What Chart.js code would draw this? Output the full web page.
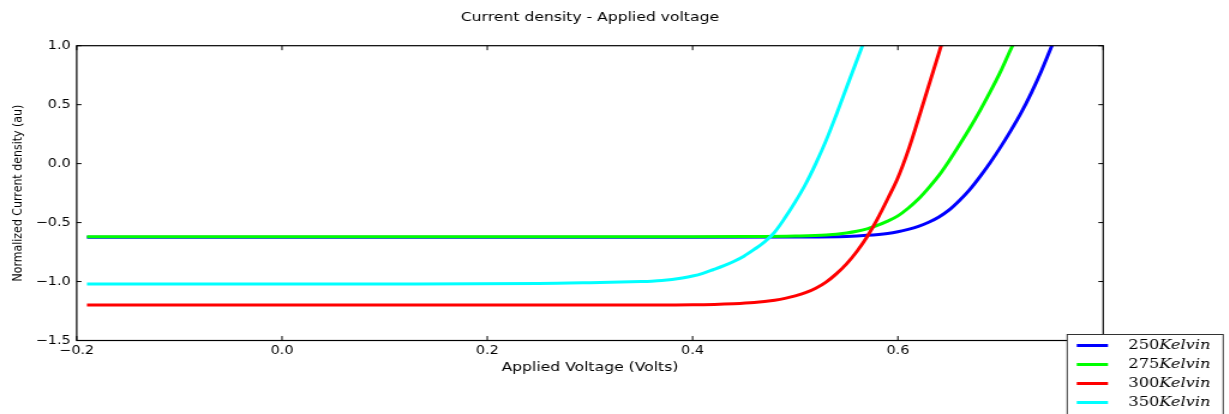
<!DOCTYPE html>
<html>
<head>
<meta charset="utf-8">
<title>Current density - Applied voltage</title>
<script src="https://cdn.jsdelivr.net/npm/chart.js@4/dist/chart.umd.min.js"></script>
<style>
    html, body { margin: 0; padding: 0; background: #fff; overflow: hidden; }
    /* the reference figure is stretched sideways, so draw narrow and stretch */
    #wrap {
        position: absolute;
        left: 0;
        top: 0;
        width: 1024px;
        height: 414px;
        transform: scaleX(1.2);
        transform-origin: 0 0;
    }
</style>
</head>
<body>
<div id="wrap"><canvas id="ivChart"></canvas></div>
<script>
// Applied voltage (V) and normalized current density (au), one pair per temperature
const v250 = [-0.19, 0.2, 0.4, 0.5, 0.55, 0.57, 0.59, 0.60, 0.61, 0.62, 0.63, 0.64, 0.65, 0.66, 0.67, 0.68, 0.69, 0.70, 0.71, 0.72, 0.73, 0.74, 0.75, 0.76];
const j250 = [-0.624, -0.624, -0.624, -0.622, -0.617, -0.608, -0.592, -0.578, -0.558, -0.532, -0.497, -0.452, -0.392, -0.312, -0.22, -0.11, 0.01, 0.14, 0.28, 0.43, 0.60, 0.79, 1.0, 1.21];

const v275 = [-0.19, 0.2, 0.4, 0.45, 0.50, 0.53, 0.55, 0.56, 0.57, 0.58, 0.59, 0.60, 0.61, 0.62, 0.63, 0.64, 0.65, 0.66, 0.67, 0.68, 0.69, 0.70, 0.71, 0.72];
const j275 = [-0.62, -0.62, -0.62, -0.619, -0.614, -0.605, -0.588, -0.574, -0.553, -0.524, -0.488, -0.443, -0.378, -0.3, -0.205, -0.1, 0.025, 0.16, 0.3, 0.45, 0.61, 0.78, 0.97, 1.15];

const v300 = [-0.19, 0.2, 0.35, 0.40, 0.44, 0.46, 0.48, 0.49, 0.50, 0.51, 0.52, 0.53, 0.54, 0.55, 0.56, 0.57, 0.58, 0.59, 0.60, 0.61, 0.62, 0.63, 0.64, 0.65];
const j300 = [-1.2, -1.2, -1.199, -1.197, -1.188, -1.178, -1.158, -1.143, -1.122, -1.095, -1.057, -1.005, -0.935, -0.85, -0.745, -0.62, -0.47, -0.3, -0.12, 0.11, 0.38, 0.66, 0.94, 1.22];

const v350 = [-0.19, 0.1, 0.25, 0.30, 0.35, 0.36, 0.37, 0.38, 0.39, 0.40, 0.41, 0.42, 0.43, 0.44, 0.45, 0.46, 0.47, 0.48, 0.49, 0.50, 0.51, 0.52, 0.53, 0.54, 0.55, 0.56, 0.57];
const j350 = [-1.02, -1.02, -1.017, -1.01, -1.0, -0.997, -0.992, -0.983, -0.97, -0.953, -0.93, -0.9, -0.868, -0.83, -0.785, -0.728, -0.665, -0.58, -0.46, -0.325, -0.175, 0.0, 0.195, 0.415, 0.645, 0.875, 1.105];

const tempLabels = ['250', '275', '300', '350'];
const unitLabel = 'Kelvin';
const lineColors = ['#0000ff', '#00ff00', '#ff0000', '#00ffff'];

const xTicks = [-0.2, 0.0, 0.2, 0.4, 0.6, 0.8];
const yTicks = [-1.5, -1.0, -0.5, 0.0, 0.5, 1.0];

/**
 * Pair up voltage and current arrays into points
 */
function toPoints(xs, ys) {
    return xs.map((v, i) => ({ x: v, y: ys[i] }));
}

/**
 * Matplotlib style tick label with a real minus sign
 */
function tickText(v) {
    return v.toFixed(1).replace('-', '\u2212');
}

// Axes frame with inward ticks on all four sides
const frameTicks = {
    id: 'frameTicks',
    afterDatasetsDraw(chart) {
        const { ctx, chartArea: a, scales: { x, y } } = chart;
        ctx.save();
        ctx.strokeStyle = '#000';
        ctx.lineWidth = 1;
        ctx.beginPath();
        xTicks.forEach(v => {
            const px = x.getPixelForValue(v);
            ctx.moveTo(px, a.bottom);
            ctx.lineTo(px, a.bottom - 4.5);
            ctx.moveTo(px, a.top);
            ctx.lineTo(px, a.top + 4.5);
        });
        yTicks.forEach(v => {
            const py = y.getPixelForValue(v);
            ctx.moveTo(a.left, py);
            ctx.lineTo(a.left + 4, py);
            ctx.moveTo(a.right, py);
            ctx.lineTo(a.right - 4, py);
        });
        ctx.stroke();
        ctx.lineWidth = 1.2;
        ctx.strokeRect(a.left, a.top, a.right - a.left, a.bottom - a.top);
        ctx.restore();
    }
};

// Legend box hanging over the lower right corner of the axes
const boxLegend = {
    id: 'boxLegend',
    afterDraw(chart) {
        const { ctx, chartArea: a } = chart;
        const left = a.right - 30;
        const top = a.bottom - 6;
        ctx.save();
        ctx.fillStyle = '#fff';
        ctx.strokeStyle = '#333';
        ctx.lineWidth = 1;
        ctx.fillRect(left, top, 130, 95);
        ctx.strokeRect(left, top, 130, 95);
        ctx.textBaseline = 'middle';
        tempLabels.forEach((t, i) => {
            const yy = top + 11 + i * 19;
            ctx.strokeStyle = lineColors[i];
            ctx.lineWidth = 3;
            ctx.beginPath();
            ctx.moveTo(left + 8, yy);
            ctx.lineTo(left + 34, yy);
            ctx.stroke();
            ctx.fillStyle = '#000';
            ctx.font = '13.5px "DejaVu Serif"';
            ctx.fillText(t, left + 51, yy);
            const w = ctx.measureText(t).width;
            ctx.font = 'italic 13.5px "DejaVu Serif"';
            ctx.fillText(unitLabel, left + 51 + w, yy);
        });
        ctx.restore();
    }
};

const seriesX = [v250, v275, v300, v350];
const seriesY = [j250, j275, j300, j350];

const datasets = tempLabels.map((t, i) => ({
    label: t + ' ' + unitLabel,
    data: toPoints(seriesX[i], seriesY[i]),
    borderColor: lineColors[i],
    backgroundColor: lineColors[i],
    borderWidth: 3,
    pointRadius: 0,
    showLine: true,
    cubicInterpolationMode: 'monotone',
    clip: 0,
    order: tempLabels.length - i
}));

new Chart(document.getElementById('ivChart'), {
    type: 'scatter',
    data: { datasets: datasets },
    options: {
        responsive: true,
        maintainAspectRatio: false,
        animation: false,
        layout: {
            padding: { left: 0, right: 104.7, top: 0, bottom: 0 }
        },
        plugins: {
            legend: { display: false },
            tooltip: { enabled: false },
            title: {
                display: true,
                text: 'Current density - Applied voltage',
                fullSize: false,
                color: '#000',
                font: { family: 'DejaVu Sans', size: 13, weight: 'normal' },
                padding: { top: 10, bottom: 20.1 }
            }
        },
        scales: {
            x: {
                type: 'linear',
                min: -0.2,
                max: 0.8,
                afterFit: scale => { scale.height = 73.5; },
                afterBuildTicks: scale => { scale.ticks = xTicks.map(v => ({ value: v })); },
                grid: { display: false, drawTicks: false },
                border: { display: false },
                ticks: {
                    autoSkip: false,
                    maxRotation: 0,
                    padding: 3.5,
                    color: '#000',
                    font: { family: 'DejaVu Sans', size: 12 },
                    callback: v => tickText(v)
                },
                title: {
                    display: true,
                    text: 'Applied Voltage (Volts)',
                    color: '#000',
                    font: { family: 'DejaVu Sans', size: 13 },
                    padding: { top: 0, bottom: 38.2 }
                }
            },
            y: {
                type: 'linear',
                min: -1.5,
                max: 1.0,
                afterFit: scale => { scale.width = 63.9; },
                afterBuildTicks: scale => { scale.ticks = yTicks.map(v => ({ value: v })); },
                grid: { display: false, drawTicks: false },
                border: { display: false },
                ticks: {
                    autoSkip: false,
                    padding: 5,
                    color: '#000',
                    font: { family: 'DejaVu Sans', size: 12 },
                    callback: v => tickText(v)
                },
                title: {
                    display: true,
                    text: 'Normalized Current density (au)',
                    color: '#000',
                    font: { family: 'DejaVu Sans', size: 11 },
                    padding: { top: 8.4, bottom: 0 }
                }
            }
        }
    },
    plugins: [frameTicks, boxLegend]
});
</script>
</body>
</html>
